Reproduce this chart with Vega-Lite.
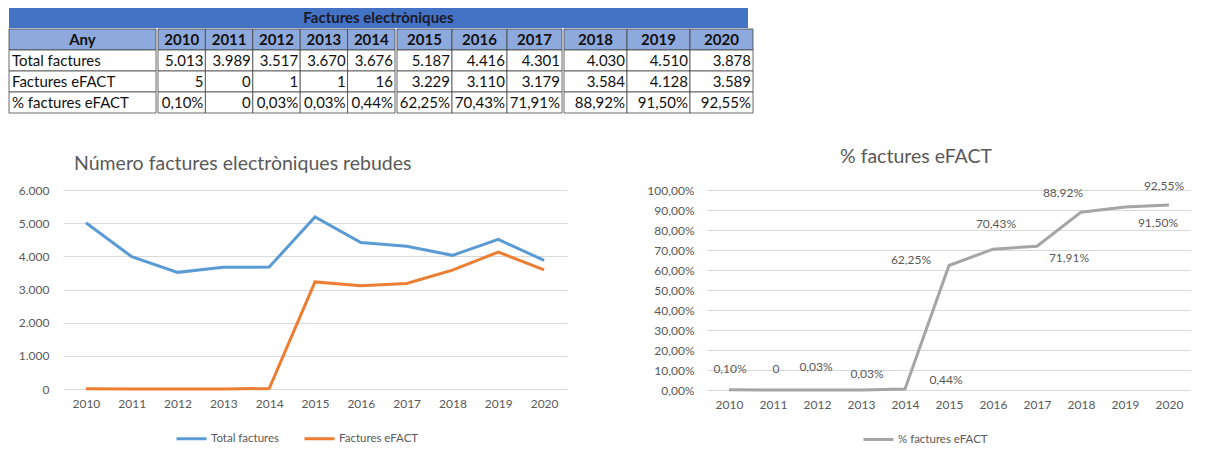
{
  "$schema": "https://vega.github.io/schema/vega-lite/v6.json",
  "padding": {"left": 8, "top": 8, "right": 0, "bottom": 0},
  "background": "white",
  "config": {
    "font": "Lato",
    "view": {"stroke": null},
    "locale": {"number": {"decimal": ",", "thousands": ".", "grouping": [3], "currency": ["", "€"]}}
  },
  "datasets": {
    "facts": [
      {"year": 2010, "total": 5013, "efact": 5, "pct": 0.001},
      {"year": 2011, "total": 3989, "efact": 0, "pct": 0},
      {"year": 2012, "total": 3517, "efact": 1, "pct": 0.0003},
      {"year": 2013, "total": 3670, "efact": 1, "pct": 0.0003},
      {"year": 2014, "total": 3676, "efact": 16, "pct": 0.0044},
      {"year": 2015, "total": 5187, "efact": 3229, "pct": 0.6225},
      {"year": 2016, "total": 4416, "efact": 3110, "pct": 0.7043},
      {"year": 2017, "total": 4301, "efact": 3179, "pct": 0.7191},
      {"year": 2018, "total": 4030, "efact": 3584, "pct": 0.8892},
      {"year": 2019, "total": 4510, "efact": 4128, "pct": 0.9150},
      {"year": 2020, "total": 3878, "efact": 3589, "pct": 0.9255}
    ],
    "rows": [
      {"key": "any", "label": "Any"},
      {"key": "total", "label": "Total factures"},
      {"key": "efact", "label": "Factures eFACT"},
      {"key": "pct", "label": "% factures eFACT"}
    ],
    "heading": [{"text": "Factures electròniques"}]
  },
  "spacing": 33,
  "vconcat": [
    {
      "spacing": 0,
      "vconcat": [
        {
          "width": 739,
          "height": 20,
          "data": {"name": "heading"},
          "view": {"fill": "#4472C4", "stroke": null},
          "mark": {"type": "text", "fontWeight": "bold", "fontSize": 15, "color": "#1a1a2a"},
          "encoding": {"text": {"field": "text", "type": "nominal"}}
        },
        {
          "spacing": 0,
          "hconcat": [
            {
              "width": 147,
              "height": 84,
              "data": {"name": "rows"},
              "layer": [
                {
                  "mark": {"type": "rect", "stroke": "#444444", "strokeWidth": 0.8},
                  "encoding": {
                    "x": {"datum": "c", "type": "nominal", "axis": null, "scale": {"paddingInner": 0, "paddingOuter": 0}},
                    "y": {"field": "key", "type": "nominal", "axis": null, "sort": null, "scale": {"domain": ["any", "total", "efact", "pct"], "paddingInner": 0, "paddingOuter": 0}},
                    "fill": {"condition": {"test": "datum.key === 'any'", "value": "#8EA9DB"}, "value": "white"}
                  }
                },
                {
                  "transform": [{"filter": "datum.key === 'any'"}],
                  "mark": {"type": "text", "fontWeight": "bold", "fontSize": 15, "color": "#111111"},
                  "encoding": {
                    "x": {"datum": "c", "type": "nominal"},
                    "y": {"field": "key", "type": "nominal"},
                    "text": {"field": "label", "type": "nominal"}
                  }
                },
                {
                  "transform": [{"filter": "datum.key !== 'any'"}],
                  "mark": {"type": "text", "align": "left", "dx": 3, "fontSize": 15, "color": "#111111"},
                  "encoding": {
                    "x": {"datum": "c", "type": "nominal", "bandPosition": 0},
                    "y": {"field": "key", "type": "nominal"},
                    "text": {"field": "label", "type": "nominal"}
                  }
                }
              ]
            },
            {
              "width": 237,
              "height": 84,
              "data": {"name": "facts"},
              "transform": [{"filter": {"field": "year", "range": [2010, 2014]}}],
              "layer": [
                {
                  "mark": {"type": "rect", "fill": "#8EA9DB", "stroke": "#444444", "strokeWidth": 0.8},
                  "encoding": {
                    "x": {"field": "year", "type": "ordinal", "axis": null, "scale": {"paddingInner": 0, "paddingOuter": 0}},
                    "y": {"datum": "any", "type": "nominal", "axis": null, "scale": {"domain": ["any", "total", "efact", "pct"], "paddingInner": 0, "paddingOuter": 0}}
                  }
                },
                {
                  "transform": [{"fold": ["total", "efact", "pct"], "as": ["key", "value"]}],
                  "mark": {"type": "rect", "fill": "white", "stroke": "#444444", "strokeWidth": 0.8},
                  "encoding": {"x": {"field": "year", "type": "ordinal"}, "y": {"field": "key", "type": "nominal"}}
                },
                {
                  "mark": {"type": "text", "fontWeight": "bold", "fontSize": 15, "color": "#111111"},
                  "encoding": {"x": {"field": "year", "type": "ordinal"}, "y": {"datum": "any", "type": "nominal"}, "text": {"field": "year", "type": "ordinal"}}
                },
                {
                  "mark": {"type": "text", "align": "right", "dx": -2, "fontSize": 15, "color": "#111111"},
                  "encoding": {"x": {"field": "year", "type": "ordinal", "bandPosition": 1}, "y": {"datum": "total", "type": "nominal"}, "text": {"field": "total", "type": "quantitative", "format": ",d"}}
                },
                {
                  "mark": {"type": "text", "align": "right", "dx": -2, "fontSize": 15, "color": "#111111"},
                  "encoding": {"x": {"field": "year", "type": "ordinal", "bandPosition": 1}, "y": {"datum": "efact", "type": "nominal"}, "text": {"field": "efact", "type": "quantitative", "format": ",d"}}
                },
                {
                  "mark": {"type": "text", "align": "right", "dx": -2, "fontSize": 15, "color": "#111111"},
                  "encoding": {"x": {"field": "year", "type": "ordinal", "bandPosition": 1}, "y": {"datum": "pct", "type": "nominal"}, "text": {"condition": {"test": "datum.pct === 0", "value": "0"}, "field": "pct", "type": "quantitative", "format": ".2%"}}
                }
              ]
            },
            {
              "width": 165,
              "height": 84,
              "data": {"name": "facts"},
              "transform": [{"filter": {"field": "year", "range": [2015, 2017]}}],
              "layer": [
                {
                  "mark": {"type": "rect", "fill": "#8EA9DB", "stroke": "#444444", "strokeWidth": 0.8},
                  "encoding": {
                    "x": {"field": "year", "type": "ordinal", "axis": null, "scale": {"paddingInner": 0, "paddingOuter": 0}},
                    "y": {"datum": "any", "type": "nominal", "axis": null, "scale": {"domain": ["any", "total", "efact", "pct"], "paddingInner": 0, "paddingOuter": 0}}
                  }
                },
                {
                  "transform": [{"fold": ["total", "efact", "pct"], "as": ["key", "value"]}],
                  "mark": {"type": "rect", "fill": "white", "stroke": "#444444", "strokeWidth": 0.8},
                  "encoding": {"x": {"field": "year", "type": "ordinal"}, "y": {"field": "key", "type": "nominal"}}
                },
                {
                  "mark": {"type": "text", "fontWeight": "bold", "fontSize": 15, "color": "#111111"},
                  "encoding": {"x": {"field": "year", "type": "ordinal"}, "y": {"datum": "any", "type": "nominal"}, "text": {"field": "year", "type": "ordinal"}}
                },
                {
                  "mark": {"type": "text", "align": "right", "dx": -2, "fontSize": 15, "color": "#111111"},
                  "encoding": {"x": {"field": "year", "type": "ordinal", "bandPosition": 1}, "y": {"datum": "total", "type": "nominal"}, "text": {"field": "total", "type": "quantitative", "format": ",d"}}
                },
                {
                  "mark": {"type": "text", "align": "right", "dx": -2, "fontSize": 15, "color": "#111111"},
                  "encoding": {"x": {"field": "year", "type": "ordinal", "bandPosition": 1}, "y": {"datum": "efact", "type": "nominal"}, "text": {"field": "efact", "type": "quantitative", "format": ",d"}}
                },
                {
                  "mark": {"type": "text", "align": "right", "dx": -2, "fontSize": 15, "color": "#111111"},
                  "encoding": {"x": {"field": "year", "type": "ordinal", "bandPosition": 1}, "y": {"datum": "pct", "type": "nominal"}, "text": {"field": "pct", "type": "quantitative", "format": ".2%"}}
                }
              ]
            },
            {
              "width": 189,
              "height": 84,
              "data": {"name": "facts"},
              "transform": [{"filter": {"field": "year", "range": [2018, 2020]}}],
              "layer": [
                {
                  "mark": {"type": "rect", "fill": "#8EA9DB", "stroke": "#444444", "strokeWidth": 0.8},
                  "encoding": {
                    "x": {"field": "year", "type": "ordinal", "axis": null, "scale": {"paddingInner": 0, "paddingOuter": 0}},
                    "y": {"datum": "any", "type": "nominal", "axis": null, "scale": {"domain": ["any", "total", "efact", "pct"], "paddingInner": 0, "paddingOuter": 0}}
                  }
                },
                {
                  "transform": [{"fold": ["total", "efact", "pct"], "as": ["key", "value"]}],
                  "mark": {"type": "rect", "fill": "white", "stroke": "#444444", "strokeWidth": 0.8},
                  "encoding": {"x": {"field": "year", "type": "ordinal"}, "y": {"field": "key", "type": "nominal"}}
                },
                {
                  "mark": {"type": "text", "fontWeight": "bold", "fontSize": 15, "color": "#111111"},
                  "encoding": {"x": {"field": "year", "type": "ordinal"}, "y": {"datum": "any", "type": "nominal"}, "text": {"field": "year", "type": "ordinal"}}
                },
                {
                  "mark": {"type": "text", "align": "right", "dx": -2, "fontSize": 15, "color": "#111111"},
                  "encoding": {"x": {"field": "year", "type": "ordinal", "bandPosition": 1}, "y": {"datum": "total", "type": "nominal"}, "text": {"field": "total", "type": "quantitative", "format": ",d"}}
                },
                {
                  "mark": {"type": "text", "align": "right", "dx": -2, "fontSize": 15, "color": "#111111"},
                  "encoding": {"x": {"field": "year", "type": "ordinal", "bandPosition": 1}, "y": {"datum": "efact", "type": "nominal"}, "text": {"field": "efact", "type": "quantitative", "format": ",d"}}
                },
                {
                  "mark": {"type": "text", "align": "right", "dx": -2, "fontSize": 15, "color": "#111111"},
                  "encoding": {"x": {"field": "year", "type": "ordinal", "bandPosition": 1}, "y": {"datum": "pct", "type": "nominal"}, "text": {"field": "pct", "type": "quantitative", "format": ".2%"}}
                }
              ]
            }
          ]
        }
      ]
    },
    {
      "spacing": 0,
      "hconcat": [
        {
          "width": 1,
          "height": 1,
          "data": {"values": [{}]},
          "mark": {"type": "text", "text": ""}
        },
        {
          "spacing": 74,
          "resolve": {"scale": {"color": "independent", "x": "independent", "y": "independent"}, "legend": {"color": "independent"}},
          "hconcat": [
            {
              "width": 504,
              "height": 199,
              "data": {"name": "facts"},
              "title": {"text": "Número factures electròniques rebudes", "anchor": "start", "frame": "group", "dx": 11, "fontSize": 19.5, "fontWeight": "normal", "color": "#595959", "offset": 10},
              "encoding": {
                "x": {"field": "year", "type": "ordinal", "scale": {"paddingInner": 0, "paddingOuter": 0},
                      "axis": {"title": null, "labelAngle": 0, "domain": false, "ticks": false, "labelPadding": 9, "labelColor": "#595959", "labelFontSize": 12}}
              },
              "layer": [
                {
                  "mark": {"type": "line", "strokeWidth": 3},
                  "encoding": {
                    "y": {"field": "total", "type": "quantitative", "scale": {"domain": [0, 6000]},
                          "axis": {"title": null, "values": [0, 1000, 2000, 3000, 4000, 5000, 6000], "format": ",d", "domain": false, "ticks": false, "labelColor": "#595959", "labelFontSize": 12, "labelPadding": 14, "gridColor": "#D9D9D9", "minExtent": 53}},
                    "color": {"datum": "Total factures", "type": "nominal",
                              "scale": {"domain": ["Total factures", "Factures eFACT"], "range": ["#5B9BD5", "#ED7D31"]},
                              "legend": {"orient": "none", "legendX": 112, "legendY": 232, "direction": "horizontal", "title": null, "symbolType": "stroke", "symbolStrokeWidth": 3, "symbolSize": 900, "labelFontSize": 11.5, "labelOffset": 3, "labelColor": "#595959", "columnPadding": 18}}
                  }
                },
                {
                  "mark": {"type": "line", "strokeWidth": 3},
                  "encoding": {
                    "y": {"field": "efact", "type": "quantitative",
                          "axis": {"title": null, "values": [0, 1000, 2000, 3000, 4000, 5000, 6000], "format": ",d", "domain": false, "ticks": false, "labelColor": "#595959", "labelFontSize": 12, "labelPadding": 14, "gridColor": "#D9D9D9", "minExtent": 53}},
                    "color": {"datum": "Factures eFACT", "type": "nominal"}
                  }
                }
              ]
            },
            {
              "width": 484,
              "height": 200,
              "data": {"name": "facts"},
              "title": {"text": "% factures eFACT", "anchor": "middle", "frame": "bounds", "fontSize": 19.5, "fontWeight": "normal", "color": "#595959", "offset": 12},
              "encoding": {
                "x": {"field": "year", "type": "ordinal", "scale": {"paddingInner": 0, "paddingOuter": 0},
                      "axis": {"title": null, "labelAngle": 0, "domain": false, "ticks": false, "labelPadding": 9, "labelColor": "#595959", "labelFontSize": 12}},
                "y": {"field": "pct", "type": "quantitative", "scale": {"domain": [0, 1]},
                      "axis": {"title": null, "values": [0, 0.1, 0.2, 0.3, 0.4, 0.5, 0.6, 0.7, 0.8, 0.9, 1], "format": ".2%", "domain": false, "ticks": false, "labelColor": "#595959", "labelFontSize": 12, "labelPadding": 13, "gridColor": "#D9D9D9", "minExtent": 66}}
              },
              "layer": [
                {
                  "mark": {"type": "line", "strokeWidth": 3},
                  "encoding": {
                    "color": {"datum": "% factures eFACT", "type": "nominal", "scale": {"range": ["#A5A5A5"]},
                              "legend": {"orient": "none", "legendX": 155, "legendY": 233, "direction": "horizontal", "title": null, "symbolType": "stroke", "symbolStrokeWidth": 3, "symbolSize": 900, "labelFontSize": 11.5, "labelOffset": 3, "labelColor": "#595959"}}
                  }
                },
                {"transform": [{"filter": "datum.year === 2010"}], "mark": {"type": "text", "fontSize": 12, "color": "#595959", "dx": 1, "dy": -21}, "encoding": {"text": {"field": "pct", "type": "quantitative", "format": ".2%"}}},
                {"transform": [{"filter": "datum.year === 2011"}], "mark": {"type": "text", "fontSize": 12, "color": "#595959", "dx": 3, "dy": -21}, "encoding": {"text": {"field": "pct", "type": "quantitative", "format": "d"}}},
                {"transform": [{"filter": "datum.year === 2012"}], "mark": {"type": "text", "fontSize": 12, "color": "#595959", "dx": -1, "dy": -23}, "encoding": {"text": {"field": "pct", "type": "quantitative", "format": ".2%"}}},
                {"transform": [{"filter": "datum.year === 2013"}], "mark": {"type": "text", "fontSize": 12, "color": "#595959", "dx": 6, "dy": -16}, "encoding": {"text": {"field": "pct", "type": "quantitative", "format": ".2%"}}},
                {"transform": [{"filter": "datum.year === 2014"}], "mark": {"type": "text", "fontSize": 12, "color": "#595959", "dx": 41, "dy": -9}, "encoding": {"text": {"field": "pct", "type": "quantitative", "format": ".2%"}}},
                {"transform": [{"filter": "datum.year === 2015"}], "mark": {"type": "text", "fontSize": 12, "color": "#595959", "dx": -38, "dy": -6}, "encoding": {"text": {"field": "pct", "type": "quantitative", "format": ".2%"}}},
                {"transform": [{"filter": "datum.year === 2016"}], "mark": {"type": "text", "fontSize": 12, "color": "#595959", "dx": 3, "dy": -25}, "encoding": {"text": {"field": "pct", "type": "quantitative", "format": ".2%"}}},
                {"transform": [{"filter": "datum.year === 2017"}], "mark": {"type": "text", "fontSize": 12, "color": "#595959", "dx": 32, "dy": 12}, "encoding": {"text": {"field": "pct", "type": "quantitative", "format": ".2%"}}},
                {"transform": [{"filter": "datum.year === 2018"}], "mark": {"type": "text", "fontSize": 12, "color": "#595959", "dx": -18, "dy": -19}, "encoding": {"text": {"field": "pct", "type": "quantitative", "format": ".2%"}}},
                {"transform": [{"filter": "datum.year === 2019"}], "mark": {"type": "text", "fontSize": 12, "color": "#595959", "dx": 33, "dy": 16}, "encoding": {"text": {"field": "pct", "type": "quantitative", "format": ".2%"}}},
                {"transform": [{"filter": "datum.year === 2020"}], "mark": {"type": "text", "fontSize": 12, "color": "#595959", "dx": -5, "dy": -19}, "encoding": {"text": {"field": "pct", "type": "quantitative", "format": ".2%"}}}
              ]
            }
          ]
        }
      ]
    }
  ]
}
